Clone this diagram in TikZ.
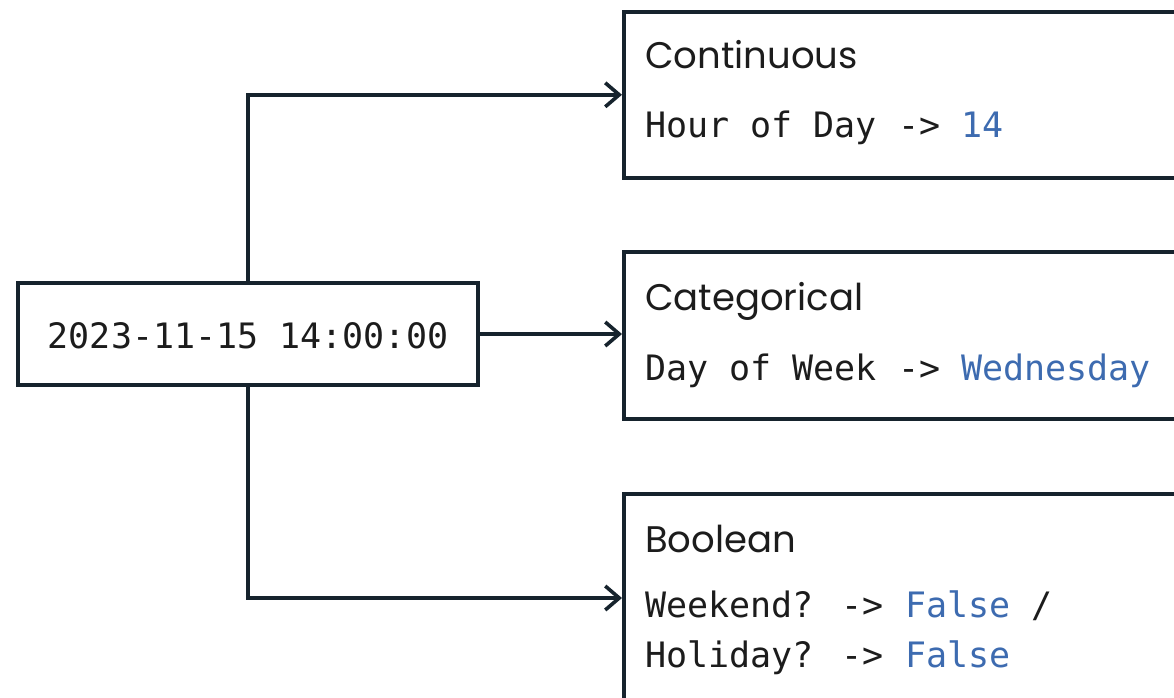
\documentclass[tikz,border=0pt]{standalone}
\usepackage{fontspec}
\setmainfont{Poppins}
\newfontfamily\codefont{DejaVu Sans Mono}
\usetikzlibrary{arrows.meta,calc}
\definecolor{ink}{HTML}{16232D}
\definecolor{txt}{HTML}{1C1C1C}
\definecolor{val}{HTML}{3D6BB0}
\tikzset{
  box/.style={draw=ink, line width=3.6pt, rectangle, inner sep=0pt},
  conn/.style={draw=ink, line width=3.6pt, -{Straight Barb[length=14pt,width=24pt,line width=3.6pt]}},
  title/.style={anchor=base west, inner sep=0pt, text=txt, font=\fontsize{37}{44}\selectfont},
  code/.style={anchor=base west, inner sep=0pt, text=txt, font=\codefont\fontsize{35}{42}\selectfont},
}
\begin{document}
\begin{tikzpicture}[x=1pt,y=1pt]
\useasboundingbox (0,0) rectangle (1174,-697);
\clip (0,0) rectangle (1174,-697);
\fill[white] (0,0) rectangle (1174,-697);
\node[box, minimum width=460pt, minimum height=102pt] (src) at (248,-334) {};
\node[code, anchor=base] (srct) at (248,-348) {2023-11-15 14:00:00};
\node[box, anchor=north west, minimum width=620pt, minimum height=166pt] (cont) at (622,-10) {};
\node[box, anchor=north west, minimum width=620pt, minimum height=167pt] (cat) at (622,-250) {};
\node[box, anchor=north west, minimum width=620pt, minimum height=240pt] (bool) at (622,-492) {};
\node[title] (t1) at (645,-68) {Continuous};
\node[code] (c1) at (645,-137) {Hour of Day -> \textcolor{val}{14}};
\node[title] (t2) at (645,-310) {Categorical};
\node[code] (c2) at (645,-380) {Day of Week -> \textcolor{val}{Wednesday}};
\node[title] (t3) at (645,-552) {Boolean};
\node[code] (c3) at (645,-617) {Weekend? -> \textcolor{val}{False} /};
\node[code] (c4) at (645,-667) {Holiday? -> \textcolor{val}{False}};
\coordinate (bin) at ($(bool.north west)+(0,-106)$);
\draw[conn] (src.north) |- (cont.west);
\draw[conn] (src.east) -- (src.east -| cat.west);
\draw[conn] (src.south) |- (bin);
\end{tikzpicture}
\end{document}
